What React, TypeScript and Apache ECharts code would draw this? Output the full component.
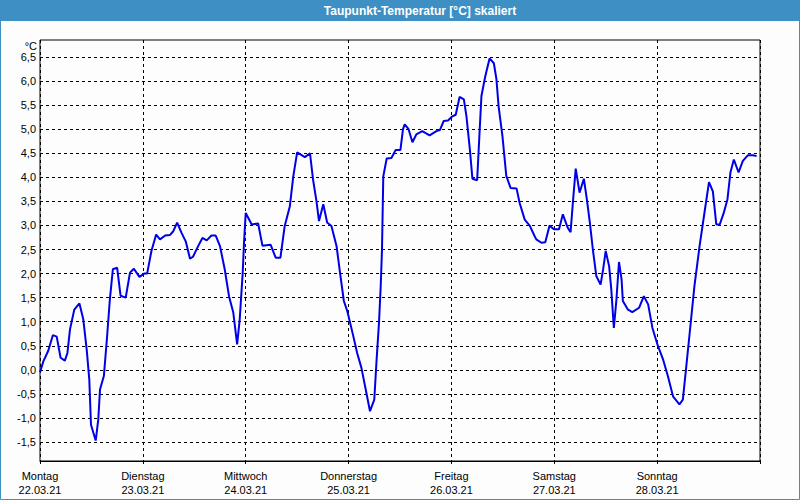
import React, { useEffect, useRef } from "react";
import * as echarts from "echarts";

const dayNames = ["Montag", "Dienstag", "Mittwoch", "Donnerstag", "Freitag", "Samstag", "Sonntag"];
const dayDates = ["22.03.21", "23.03.21", "24.03.21", "25.03.21", "26.03.21", "27.03.21", "28.03.21"];

// hours since Monday 22.03.21 00:00
const hours = [
  0, 0.8, 1.9, 3.0, 3.9, 4.8, 5.8, 6.4, 7.0, 8.0,
  9.2, 10.1, 10.9, 11.5, 11.9, 12.8, 13.0, 13.6, 14.0, 14.9,
  15.6, 16.3, 17.0, 18.0, 18.8, 20.0, 21.0, 21.9, 23.2, 24.3,
  25.0, 26.0, 27.1, 28.0, 29.2, 30.3, 31.1, 32.0, 33.0, 34.0,
  35.0, 35.7, 36.9, 37.9, 38.9, 40.0, 41.0, 42.0, 43.1, 44.1,
  45.1, 46.0, 46.6, 47.3, 47.6, 48.0, 49.4, 50.9, 51.9, 53.8,
  55.0, 56.1, 57.1, 58.3, 59.1, 60.0, 61.8, 63.0, 63.7, 64.5,
  65.1, 66.1, 67.0, 68.0, 69.2, 70.0, 70.9, 71.7, 73.1, 74.0,
  75.0, 76.0, 77.0, 78.0, 78.5, 79.1, 79.5, 79.8, 80.1, 80.9,
  82.0, 83.0, 84.1, 84.7, 85.1, 86.0, 86.9, 87.8, 89.2, 90.9,
  92.5, 93.3, 94.2, 95.2, 96.1, 97.0, 97.9, 98.9, 99.5, 100.3,
  100.9, 102.0, 102.6, 103.0, 103.9, 104.9, 105.9, 106.5, 107.0, 107.9,
  108.8, 109.8, 111.2, 111.9, 113.1, 114.3, 115.4, 115.8, 117.0, 117.9,
  118.9, 119.9, 121.1, 122.0, 123.1, 123.8, 124.4, 125.0, 125.9, 126.9,
  127.6, 128.3, 129.0, 129.8, 130.8, 131.4, 132.0, 132.8, 133.3, 133.9,
  134.5, 135.1, 135.7, 136.0, 137.2, 138.2, 139.8, 140.9, 141.9, 142.9,
  144.2, 145.4, 146.5, 147.7, 149.2, 150.0, 150.8, 151.6, 152.7, 153.9,
  155.1, 156.1, 157.0, 157.8, 158.6, 159.5, 160.4, 161.1, 161.9, 163.0,
  164.0, 165.2, 166.4, 167.2,
];

// dew point temperature in °C
const dewPoint = [
  -0.05, 0.18, 0.39, 0.72, 0.69, 0.25, 0.19, 0.35, 0.84, 1.25,
  1.38, 1.05, 0.42, -0.2, -1.14, -1.41, -1.47, -1.03, -0.41, -0.13,
  0.63, 1.46, 2.09, 2.12, 1.54, 1.5, 2.02, 2.1, 1.93, 2.0,
  2.0, 2.47, 2.81, 2.71, 2.79, 2.8, 2.88, 3.06, 2.85, 2.67,
  2.31, 2.35, 2.57, 2.74, 2.69, 2.79, 2.79, 2.57, 2.09, 1.53,
  1.19, 0.53, 1.05, 2.02, 2.64, 3.26, 3.02, 3.04, 2.58, 2.6,
  2.33, 2.33, 2.99, 3.4, 4.02, 4.52, 4.42, 4.5, 3.96, 3.51,
  3.09, 3.44, 3.06, 2.99, 2.57, 2.02, 1.43, 1.22, 0.7, 0.35,
  0.04, -0.41, -0.86, -0.62, 0.15, 0.98, 1.74, 2.5, 4.02, 4.39,
  4.4, 4.57, 4.57, 5.0, 5.1, 5.0, 4.73, 4.89, 4.96, 4.87,
  4.96, 4.98, 5.17, 5.18, 5.26, 5.3, 5.67, 5.62, 5.27, 4.58,
  3.97, 3.94, 5.0, 5.69, 6.1, 6.47, 6.37, 6.04, 5.48, 4.86,
  4.03, 3.78, 3.77, 3.47, 3.12, 2.99, 2.78, 2.71, 2.64, 2.65,
  3.0, 2.92, 2.92, 3.23, 2.96, 2.86, 3.54, 4.18, 3.68, 3.97,
  3.54, 3.06, 2.5, 1.95, 1.77, 2.09, 2.47, 2.15, 1.67, 0.87,
  1.46, 2.24, 1.88, 1.43, 1.25, 1.2, 1.29, 1.53, 1.36, 0.87,
  0.49, 0.21, -0.13, -0.55, -0.72, -0.62, 0.07, 0.77, 1.74, 2.57,
  3.3, 3.9, 3.71, 3.02, 3.02, 3.25, 3.54, 4.1, 4.37, 4.1,
  4.34, 4.46, 4.46, 4.44,
];

const titleText = "Taupunkt-Temperatur [°C] skaliert";
const unitText = "°C";

const FONT = "Liberation Sans";

export default function App() {
  const ref = useRef<HTMLDivElement>(null);

  useEffect(() => {
    if (!ref.current) return;
    const chart = echarts.init(ref.current, null, { renderer: "svg" });
    chart.setOption({
      animation: false,
      backgroundColor: "#fcfdfc",
      textStyle: { fontFamily: FONT },
      grid: [
        { left: 40, right: 40, top: 40, height: 421, show: true, borderColor: "#000", borderWidth: 1, backgroundColor: "transparent" },
        { left: 40, right: 40, top: 57, height: 385 },
      ],
      xAxis: [
        {
          gridIndex: 0,
          type: "value",
          min: 0,
          max: 168,
          interval: 24,
          axisLine: { show: true, lineStyle: { color: "#000", width: 1 } },
          axisTick: { show: true, length: 3, lineStyle: { color: "#000" } },
          splitLine: { show: true, lineStyle: { color: "#000", type: [3, 3], width: 1 } },
          axisLabel: {
            margin: 8,
            color: "#000",
            fontSize: 11,
            fontFamily: FONT,
            lineHeight: 14,
            formatter: (v: number) => {
              const i = Math.round(v / 24);
              return i < dayNames.length ? dayNames[i] + "\n" + dayDates[i] : "";
            },
          },
        },
        { gridIndex: 1, type: "value", min: 0, max: 168, show: false },
      ],
      yAxis: [
        { gridIndex: 0, type: "value", min: 0, max: 1, show: false },
        {
          gridIndex: 1,
          type: "value",
          min: -1.5,
          max: 6.5,
          interval: 0.5,
          axisLine: { show: false },
          axisTick: { show: false },
          splitLine: { show: true, lineStyle: { color: "#000", type: [3, 3], width: 1 } },
          axisLabel: {
            margin: 4,
            color: "#000",
            fontSize: 11,
            fontFamily: FONT,
            formatter: (v: number) => v.toFixed(1).replace(".", ","),
          },
        },
      ],
      series: [
        {
          type: "line",
          xAxisIndex: 1,
          yAxisIndex: 1,
          data: hours.map((h, i) => [h, dewPoint[i]]),
          symbol: "none",
          clip: false,
          lineStyle: { color: "#0000e6", width: 2 },
          z: 5,
        },
      ],
      graphic: [
        { type: "rect", shape: { x: 0, y: 0, width: 800, height: 21 }, style: { fill: "#3d8fc4" }, z: 10 },
        {
          type: "text",
          x: 420,
          y: 10.5,
          style: { text: titleText, fill: "#fff", font: `bold 12px "${FONT}"`, align: "center", verticalAlign: "middle" },
          z: 11,
        },
        {
          type: "text",
          x: 37,
          y: 46,
          style: { text: unitText, fill: "#000", font: `11px "${FONT}"`, align: "right", verticalAlign: "middle" },
          z: 11,
        },
        {
          type: "rect",
          shape: { x: 0.5, y: 0.5, width: 799, height: 499 },
          style: { fill: "none", stroke: "#3d8fc4", lineWidth: 1 },
          z: 10,
        },
      ],
    });
    return () => chart.dispose();
  }, []);

  return <div ref={ref} style={{ position: "absolute", left: 0, top: 0, width: 800, height: 500 }} />;
}
